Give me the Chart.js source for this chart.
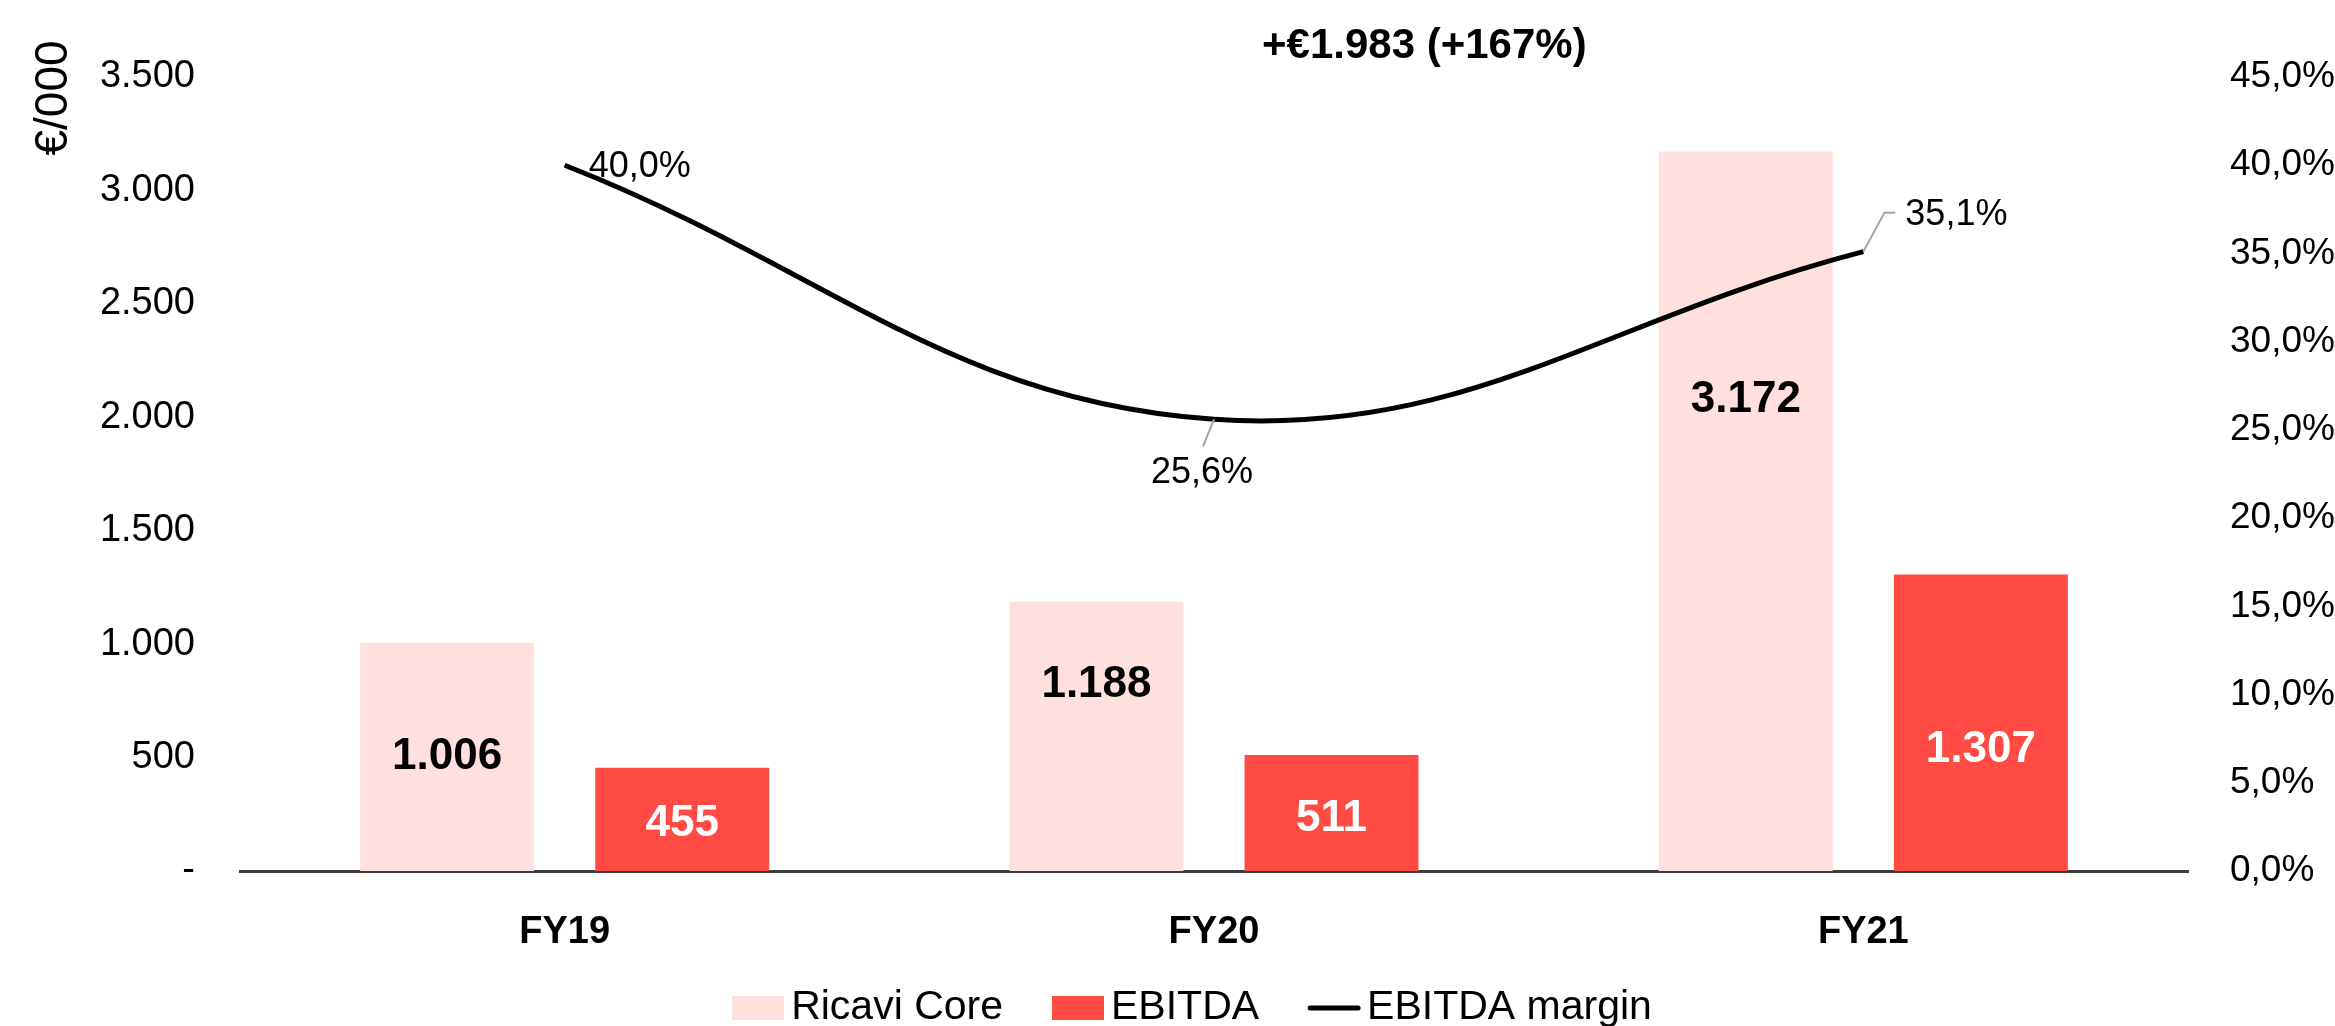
<!DOCTYPE html>
<html>
<head>
<meta charset="utf-8">
<script src="https://cdn.jsdelivr.net/npm/chart.js@4.4.1/dist/chart.umd.min.js"></script>
<style>
  html, body { margin: 0; padding: 0; background: #fff; }
  #wrap { width: 2335px; height: 1026px; }
</style>
</head>
<body>
<div id="wrap"><canvas id="myChart" width="2335" height="1026"></canvas></div>
<script>
// dati (€/000)
const categories = ['FY19', 'FY20', 'FY21'];
const ricaviCore = [1006, 1188, 3172];
const ebitda = [455, 511, 1307];
const ebitdaMargin = [40.0, 25.6, 35.1];
const leftTicks = [0, 500, 1000, 1500, 2000, 2500, 3000, 3500];
const rightTicks = [0, 5, 10, 15, 20, 25, 30, 35, 40, 45];
const headline = '+€1.983 (+167%)';
const axisCaption = '€/000';

// posizione delle etichette nelle barre (frazione dell'altezza, dal basso)
const ricaviLabelPos = [0.50, 0.69, 0.655];
const ebitdaLabelPos = [0.46, 0.45, 0.41];

const PINK = '#FFE0DF';
const RED = '#FF4B44';
const FONT = "'Liberation Sans', Arial, sans-serif";

Chart.defaults.font.family = FONT;
Chart.defaults.color = '#000';

function fmtNum(v) {
  if (v === 0) return '-';
  return String(Math.round(v)).replace(/\B(?=(\d{3})+(?!\d))/g, '.');
}
function fmtPct(v) {
  return v.toFixed(1).replace('.', ',') + '%';
}

const overlay = {
  id: 'overlay',
  afterDatasetsDraw(chart) {
    const ctx = chart.ctx;
    ctx.save();
    // etichette barre
    ctx.font = 'bold 44px ' + FONT;
    ctx.textAlign = 'center';
    ctx.textBaseline = 'middle';
    const barSets = [[1, ricaviLabelPos, '#000'], [2, ebitdaLabelPos, '#fff']];
    barSets.forEach(([idx, pos, col]) => {
      const meta = chart.getDatasetMeta(idx);
      meta.data.forEach((bar, i) => {
        const v = chart.data.datasets[idx].data[i];
        const y = bar.base - (bar.base - bar.y) * pos[i];
        ctx.fillStyle = col;
        ctx.fillText(fmtNum(v), bar.x, y);
      });
    });

    // etichette linea margine
    const pts = chart.getDatasetMeta(0).data;
    ctx.font = '36px ' + FONT;
    ctx.fillStyle = '#000';
    ctx.strokeStyle = '#A6A6A6';
    ctx.lineWidth = 2;
    // FY19: a destra del punto
    let p = pts[0];
    ctx.textAlign = 'left';
    ctx.fillText(fmtPct(ebitdaMargin[0]), p.x + 24, p.y + 2);
    // FY20: sotto, con linea guida
    p = pts[1];
    ctx.beginPath();
    ctx.moveTo(p.x, p.y);
    ctx.lineTo(p.x - 11, p.y + 27);
    ctx.stroke();
    ctx.textAlign = 'center';
    ctx.fillText(fmtPct(ebitdaMargin[1]), p.x - 12, p.y + 54);
    // FY21: in alto a destra, con linea guida
    p = pts[2];
    ctx.beginPath();
    ctx.moveTo(p.x, p.y);
    ctx.lineTo(p.x + 21, p.y - 39);
    ctx.lineTo(p.x + 32, p.y - 39);
    ctx.stroke();
    ctx.textAlign = 'left';
    ctx.fillText(fmtPct(ebitdaMargin[2]), p.x + 42, p.y - 37);
    ctx.restore();
  },
  afterDraw(chart) {
    const ctx = chart.ctx;
    const area = chart.chartArea;
    ctx.save();
    // titolo
    ctx.font = 'bold 42px ' + FONT;
    ctx.fillStyle = '#000';
    ctx.textAlign = 'center';
    ctx.textBaseline = 'middle';
    ctx.fillText(headline, area.left + (area.right - area.left) * 0.608, 46);

    // unità asse sinistro
    ctx.save();
    ctx.translate(54, 98);
    ctx.rotate(-Math.PI / 2);
    ctx.font = '46px ' + FONT;
    ctx.fillText(axisCaption, 0, 0);
    ctx.restore();

    // legenda
    ctx.font = '41px ' + FONT;
    ctx.textAlign = 'left';
    const items = [chart.data.datasets[1], chart.data.datasets[2], chart.data.datasets[0]];
    const boxW = 52, gapText = 7, gapItem = 49;
    let total = 0;
    items.forEach((d, i) => {
      total += boxW + gapText + ctx.measureText(d.label).width;
      if (i < items.length - 1) total += gapItem;
    });
    let x = chart.width * 0.5105 - total / 2;
    const y = 1008;
    items.forEach(d => {
      if (d.type === 'line') {
        ctx.strokeStyle = d.borderColor;
        ctx.lineWidth = 5;
        ctx.lineCap = 'round';
        ctx.beginPath();
        ctx.moveTo(x + 2, y);
        ctx.lineTo(x + boxW - 2, y);
        ctx.stroke();
      } else {
        ctx.fillStyle = d.backgroundColor;
        ctx.fillRect(x, y - 12, boxW, 24);
      }
      x += boxW + gapText;
      ctx.fillStyle = '#000';
      ctx.fillText(d.label, x, y);
      x += ctx.measureText(d.label).width + gapItem;
    });
    ctx.restore();
  }
};

const ctx = document.getElementById('myChart');
new Chart(ctx, {
  type: 'bar',
  data: {
    labels: categories,
    datasets: [
      {
        type: 'line',
        label: 'EBITDA margin',
        data: ebitdaMargin,
        yAxisID: 'y1',
        borderColor: '#000',
        borderWidth: 5,
        pointRadius: 0,
        tension: 0.4,
        order: 0
      },
      {
        label: 'Ricavi Core',
        data: ricaviCore,
        backgroundColor: PINK,
        yAxisID: 'y',
        categoryPercentage: 0.724,
        barPercentage: 0.74,
        order: 1
      },
      {
        label: 'EBITDA',
        data: ebitda,
        backgroundColor: RED,
        yAxisID: 'y',
        categoryPercentage: 0.724,
        barPercentage: 0.74,
        order: 1
      }
    ]
  },
  options: {
    responsive: false,
    animation: false,
    devicePixelRatio: 1,
    layout: { padding: { top: 77, left: 0, right: 0, bottom: 0 } },
    plugins: {
      legend: { display: false },
      tooltip: { enabled: false }
    },
    scales: {
      x: {
        grid: { display: false },
        border: { display: true, color: '#3C3C3C', width: 3 },
        ticks: { font: { size: 38, weight: 'bold' }, color: '#000', padding: 31 },
        afterFit: s => { s.height = 155; }
      },
      y: {
        position: 'left',
        min: 0,
        max: 3500,
        afterBuildTicks: s => { s.ticks = leftTicks.map(v => ({ value: v })); },
        ticks: { font: { size: 38 }, color: '#000', padding: 37, callback: v => fmtNum(v) },
        grid: { display: false },
        border: { display: false },
        afterFit: s => { s.width = 240; }
      },
      y1: {
        position: 'right',
        min: 0,
        max: 45,
        afterBuildTicks: s => { s.ticks = rightTicks.map(v => ({ value: v })); },
        ticks: { font: { size: 37 }, color: '#000', padding: 34, callback: v => fmtPct(v) },
        grid: { display: false },
        border: { display: false },
        afterFit: s => { s.width = 147; }
      }
    }
  },
  plugins: [overlay]
});
</script>
</body>
</html>
